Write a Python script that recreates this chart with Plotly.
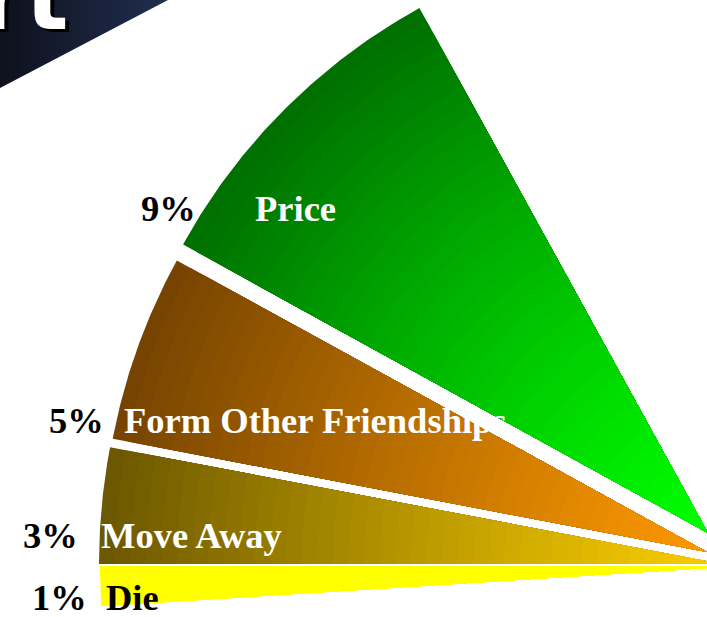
import numpy as np
import plotly.graph_objects as go

# Reasons customers leave (percent of all customers)
categories = ["Die", "Move Away", "Form Other Friendships", "Price"]
shares = [1, 3, 5, 9]
share_labels = ["1%", "3%", "5%", "9%"]

# Per-slice styling: exploded apex position (px), radius (px), rim / centre colours
apex_xy = [(740, 566), (722, 564), (707, 552), (708, 533)]
radius = [640, 623, 605, 599]
rim_rgb = [(255, 255, 0), (108, 88, 0), (118, 68, 0), (0, 112, 0)]
core_rgb = [(255, 255, 0), (250, 205, 0), (252, 152, 0), (0, 255, 0)]
name_color = ["black", "white", "white", "white"]

# Label anchor points (left edge, vertical middle) in px
pct_pos = [(30, 597), (21, 535), (47, 420), (139, 208)]
name_pos = [(104, 597), (99, 535), (122, 420), (253, 208)]

W, H = 707, 617
DEG_PER_PCT = 3.6
STEPS = 40


def sector(cx, cy, r, a0, a1, n=80):
    """Polygon of a pie sector; angles in degrees, 0 = pointing left, positive = upward."""
    th = np.radians(np.linspace(a0, a1, n))
    xs = np.concatenate([[cx], cx - r * np.cos(th), [cx]])
    ys = np.concatenate([[cy], cy - r * np.sin(th), [cy]])
    return xs, ys


def mix(c0, c1, t):
    return "rgb({},{},{})".format(*[int(round(a + (b - a) * t)) for a, b in zip(c0, c1)])


fig = go.Figure()

# Title banner in the top-left corner
fig.add_trace(go.Scatter(
    x=[0, 168, 0, 0], y=[0, 0, 88, 0], mode="lines", fill="toself",
    line=dict(width=0),
    fillgradient=dict(type="horizontal",
                      colorscale=[[0, "rgb(14,17,28)"], [1, "rgb(32,46,80)"]]),
    hoverinfo="skip",
))

# Pie slices, each shaded from rim to centre with nested sectors
start = -shares[0] * DEG_PER_PCT
for i, cat in enumerate(categories):
    a0 = start
    a1 = start + shares[i] * DEG_PER_PCT
    start = a1
    cx, cy = apex_xy[i]
    for k in range(STEPS):
        f = 1 - k / STEPS
        t = f ** 1.15
        xs, ys = sector(cx, cy, radius[i] * f, a0, a1)
        fig.add_trace(go.Scatter(
            x=xs, y=ys, mode="lines", fill="toself",
            fillcolor=mix(core_rgb[i], rim_rgb[i], t),
            line=dict(width=0), name=cat, hoverinfo="skip",
        ))

annotations = [dict(
    x=70, y=52, xref="x", yref="y", xanchor="right", yanchor="bottom",
    text="rt", showarrow=False,
    font=dict(family="DejaVu Sans", size=90, color="white", weight="bold",
              shadow="4px 3px 0px #000"),
)]
lab_font = dict(family="Liberation Serif", size=36.5, weight="bold")
for i, cat in enumerate(categories):
    annotations.append(dict(
        x=pct_pos[i][0], y=pct_pos[i][1], xref="x", yref="y",
        xanchor="left", yanchor="middle", text=share_labels[i], showarrow=False,
        font=dict(lab_font, color="black"),
    ))
    annotations.append(dict(
        x=name_pos[i][0], y=name_pos[i][1], xref="x", yref="y",
        xanchor="left", yanchor="middle", text=cat, showarrow=False,
        font=dict(lab_font, color=name_color[i]),
    ))

fig.update_layout(
    width=W, height=H, margin=dict(l=0, r=0, t=0, b=0),
    paper_bgcolor="white", plot_bgcolor="white", showlegend=False,
    xaxis=dict(range=[0, W], visible=False, fixedrange=True),
    yaxis=dict(range=[H, 0], visible=False, fixedrange=True),
    annotations=annotations,
)

fig.write_html("out.html")
